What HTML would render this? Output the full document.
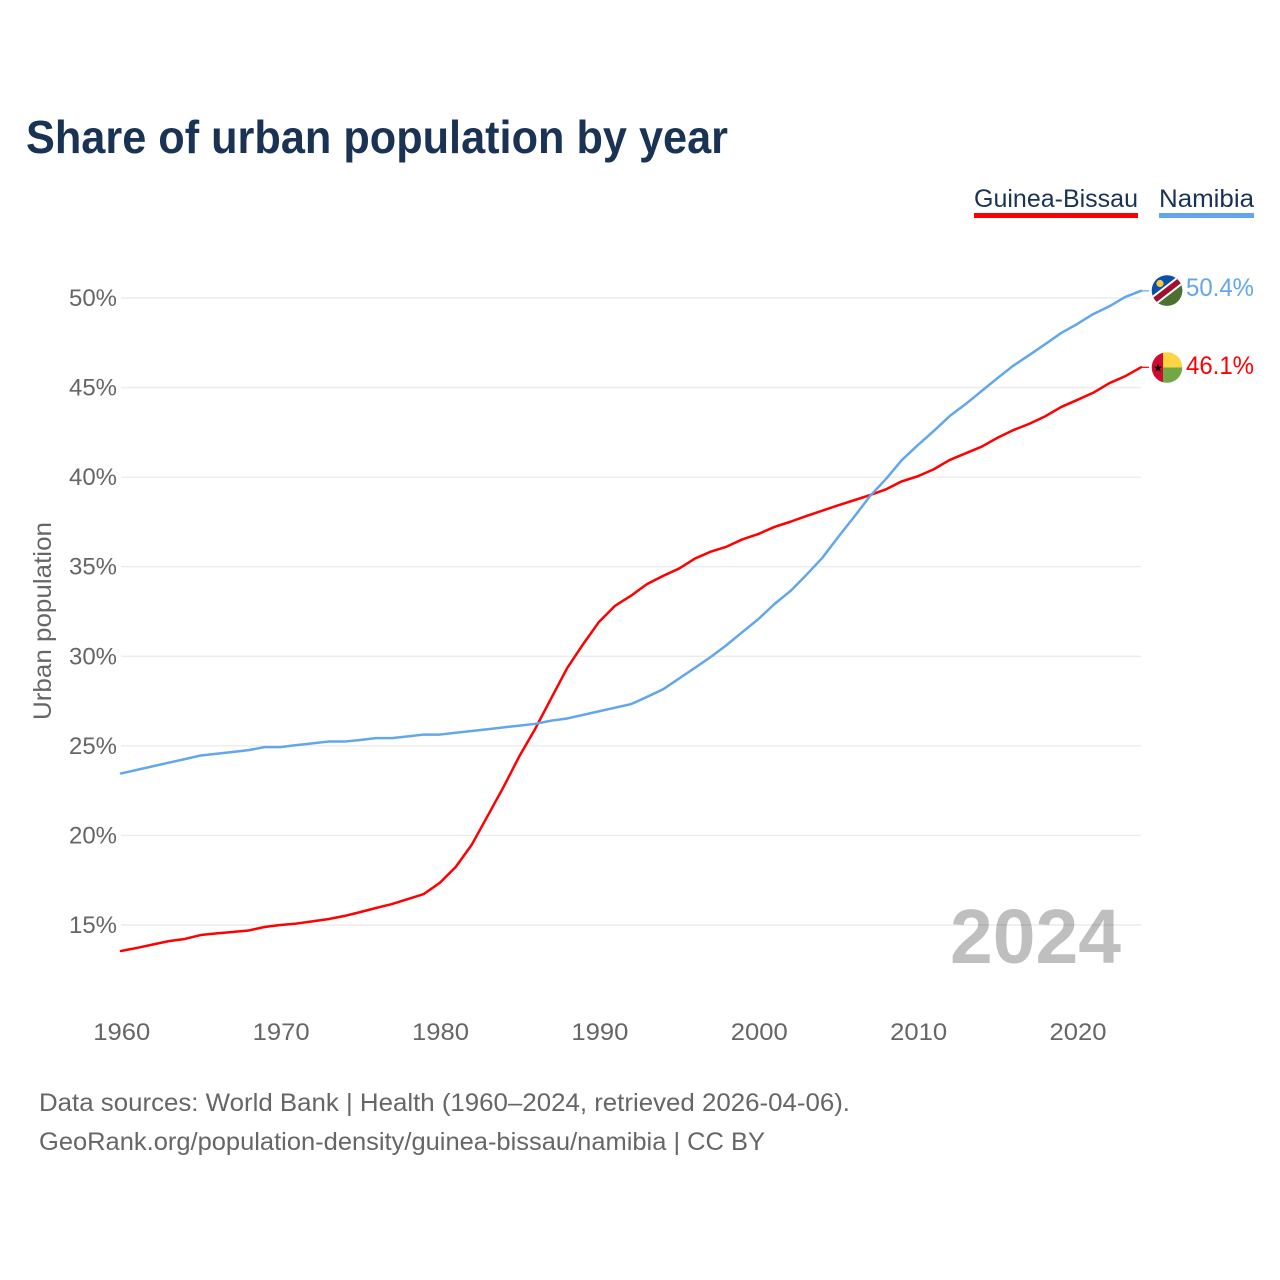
<!DOCTYPE html>
<html lang="en">
<head>
<meta charset="utf-8">
<title>Share of urban population by year</title>
<style>
html,body{margin:0;padding:0;background:#fff;}
#chart{display:block;width:1280px;height:1280px;font-family:"Liberation Sans",sans-serif;}
</style>
</head>
<body>
<svg id="chart" xmlns="http://www.w3.org/2000/svg" width="1280" height="1280" viewBox="0 0 1280 1280">
  <defs>
    <clipPath id="clip-na"><circle cx="1167" cy="290.5" r="15.3"/></clipPath>
    <clipPath id="clip-gw"><circle cx="1167" cy="367.5" r="15.3"/></clipPath>
  </defs>
  <rect x="0" y="0" width="1280" height="1280" fill="#fff"/>
  <text x="26" y="153" font-size="46" font-weight="700" fill="#1a3354" textLength="702" lengthAdjust="spacingAndGlyphs">Share of urban population by year</text>

  <g>
    <g>
      <text x="974" y="207" font-size="25" fill="#1a3354" textLength="164" lengthAdjust="spacingAndGlyphs">Guinea-Bissau</text>
      <rect x="974" y="213" width="164" height="5" fill="#ff0000"/>
    </g>
    <g>
      <text x="1159" y="207" font-size="25" fill="#1a3354" textLength="95" lengthAdjust="spacingAndGlyphs">Namibia</text>
      <rect x="1159" y="213" width="95" height="5" fill="#62a6ec"/>
    </g>
  </g>

  <g id="grid"></g>
  <g id="y-axis"></g>
  <g id="x-axis"></g>
  <text transform="translate(51,621) rotate(-90)" text-anchor="middle" font-size="25" fill="#666" textLength="198" lengthAdjust="spacingAndGlyphs">Urban population</text>
  <g id="series"></g>

  <text x="950" y="963" font-size="77" font-weight="700" fill="#000" fill-opacity="0.25" textLength="171" lengthAdjust="spacingAndGlyphs">2024</text>

  <g clip-path="url(#clip-na)">
    <rect x="1150" y="273" width="34" height="35" fill="#0a50a8"/>
    <polygon points="1147,306 1187,275 1187,310 1147,310" fill="#4c7030"/>
    <line x1="1147" y1="306" x2="1187" y2="275" stroke="#fff" stroke-width="9.5"/>
    <line x1="1147" y1="306" x2="1187" y2="275" stroke="#a01030" stroke-width="5.5"/>
    <circle cx="1160" cy="283.5" r="3.6" fill="#f5c83c"/>
  </g>
  <g clip-path="url(#clip-gw)">
    <rect x="1150" y="350" width="14" height="35" fill="#d00b30"/>
    <rect x="1163" y="350" width="21" height="17.5" fill="#fdd544"/>
    <rect x="1163" y="367.5" width="21" height="17.5" fill="#72a844"/>
    <polygon points="1158,363.5 1159.2,366.6 1162.3,366.6 1159.8,368.6 1160.7,371.8 1158,370 1155.3,371.8 1156.2,368.6 1153.7,366.6 1156.8,366.6" fill="#111"/>
  </g>

  <text x="39" y="1111" font-size="25" fill="#666" textLength="811" lengthAdjust="spacingAndGlyphs">Data sources: World Bank | Health (1960–2024, retrieved 2026-04-06).</text>
  <text x="39" y="1150" font-size="25" fill="#666" textLength="726" lengthAdjust="spacingAndGlyphs">GeoRank.org/population-density/guinea-bissau/namibia | CC BY</text>
</svg>
<script>
const years = [1960,1961,1962,1963,1964,1965,1966,1967,1968,1969,1970,1971,1972,1973,1974,1975,1976,1977,1978,1979,1980,1981,1982,1983,1984,1985,1986,1987,1988,1989,1990,1991,1992,1993,1994,1995,1996,1997,1998,1999,2000,2001,2002,2003,2004,2005,2006,2007,2008,2009,2010,2011,2012,2013,2014,2015,2016,2017,2018,2019,2020,2021,2022,2023,2024];
const guineaBissau = [13.55,13.72,13.91,14.1,14.22,14.44,14.53,14.61,14.69,14.89,15.0,15.08,15.2,15.33,15.5,15.72,15.95,16.17,16.45,16.73,17.35,18.24,19.47,21.08,22.7,24.43,25.97,27.67,29.35,30.68,31.93,32.82,33.38,34.03,34.48,34.89,35.45,35.84,36.12,36.53,36.83,37.22,37.51,37.83,38.13,38.43,38.71,39.0,39.32,39.77,40.05,40.44,40.96,41.33,41.7,42.2,42.63,42.98,43.4,43.92,44.31,44.71,45.24,45.63,46.13];
const namibia = [23.46,23.66,23.86,24.06,24.26,24.46,24.56,24.66,24.76,24.93,24.93,25.04,25.14,25.24,25.24,25.33,25.43,25.43,25.53,25.63,25.63,25.73,25.83,25.93,26.03,26.13,26.23,26.41,26.53,26.73,26.93,27.13,27.33,27.73,28.15,28.75,29.35,29.96,30.63,31.36,32.08,32.92,33.64,34.54,35.49,36.66,37.78,38.95,39.9,40.96,41.79,42.58,43.41,44.08,44.81,45.53,46.23,46.82,47.43,48.05,48.55,49.1,49.53,50.05,50.4];
const yTicks = [15,20,25,30,35,40,45,50];
const xTicks = [1960,1970,1980,1990,2000,2010,2020];
const latestLabels = ["46.1%","50.4%"];

const SVG_NS = "http://www.w3.org/2000/svg";
function xScale(year){ return 121 + (year - 1960) * (1020 / 64); }
function yScale(value){ return 298 + (50 - value) * (627 / 35); }
function make(tag, attrs, parent){
  const el = document.createElementNS(SVG_NS, tag);
  for (const k in attrs) el.setAttribute(k, attrs[k]);
  parent.appendChild(el);
  return el;
}

const gridGroup = document.getElementById("grid");
const yAxisGroup = document.getElementById("y-axis");
const xAxisGroup = document.getElementById("x-axis");
const seriesGroup = document.getElementById("series");

yTicks.forEach(function(t){
  const line = make("line", {x1:121, x2:1141, y1:yScale(t), y2:yScale(t), stroke:"#ececec", "stroke-width":1.4}, gridGroup);
  
  
  const label = make("text", {x:117, y:yScale(t)+8, "text-anchor":"end", "font-size":24, fill:"#666", textLength:48, lengthAdjust:"spacingAndGlyphs"}, yAxisGroup);
  label.textContent = t + "%";
  
  
});

xTicks.forEach(function(t){
  const label = make("text", {x:xScale(t)+0.8, y:1040, "text-anchor":"middle", "font-size":24, fill:"#666", textLength:57, lengthAdjust:"spacingAndGlyphs"}, xAxisGroup);
  label.textContent = t;
  
  
});

function drawSeries(values, color, key, labelText, labelY){
  const pts = values.map(function(v,i){ return xScale(years[i]).toFixed(2) + "," + yScale(v).toFixed(2); }).join(" ");
  const path = make("polyline", {points:pts, fill:"none", stroke:color, "stroke-width":2.5, "stroke-linejoin":"round", "stroke-linecap":"round"}, seriesGroup);
  
  
  const lastY = yScale(values[values.length-1]);
  const lastX = xScale(years[years.length-1]);
  const stub = make("line", {x1:lastX, x2:lastX+8, y1:lastY, y2:lastY, stroke:color, "stroke-width":1.2}, seriesGroup);
  
  
  const val = make("text", {x:1186, y:labelY, "font-size":25, fill:color, textLength:68, lengthAdjust:"spacingAndGlyphs"}, seriesGroup);
  val.textContent = labelText;
  
  
}
drawSeries(guineaBissau, "#ff0000", "guinea-bissau", latestLabels[0], 374);
drawSeries(namibia, "#62a6ec", "namibia", latestLabels[1], 296);
</script>
</body>
</html>
